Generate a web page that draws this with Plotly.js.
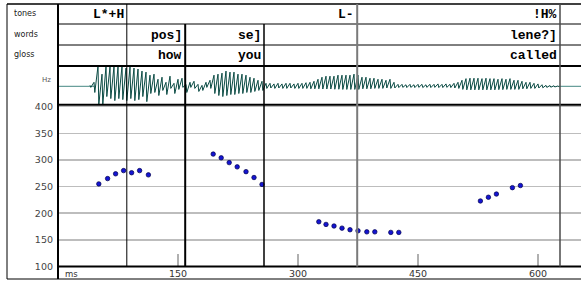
<!DOCTYPE html>
<html><head><meta charset="utf-8">
<script src="https://cdn.plot.ly/plotly-3.0.1.min.js"></script>
<style>html,body{margin:0;padding:0;background:#fff;}#chart{width:581px;height:281px;}</style>
</head><body><div id="chart"></div>
<script>
// ---------- data ----------
const tierNames = ["tones", "words", "gloss"];
const toneLabels = ["L*+H", "L-", "!H%"];
const toneEnds = [86, 374, 627.5];
const wordLabels = ["pos]", "se]", "lene?]"];
const wordEnds = [159, 257.5, 627.5];
const glossLabels = ["how", "you", "called"];
const glossEnds = [159, 257.5, 627.5];

const f0Ms = [51, 62, 72, 82, 92, 102, 113,
              194, 204, 214, 224, 235, 245, 255,
              326, 335, 345, 355, 365, 375, 386, 396, 416, 426,
              528, 538, 548, 568, 578];
const f0Hz = [255, 265, 274, 280, 276, 280, 272,
              311, 304, 295, 287, 278, 267, 254,
              184, 179, 176, 172, 169, 167, 165, 165, 164, 164,
              223, 230, 236, 248, 252];

const hzTicks = [100, 150, 200, 250, 300, 350, 400];
const msTicks = [150, 300, 450, 600];

// waveform envelope (relative amplitude), sampled every 5 ms from 40 ms
const waveStart = 40, waveStep = 5;
const waveHi = [0.05,0.2,1.0,0.6,1.0,0.95,1.0,0.95,1.0,0.9,0.95,0.9,0.85,0.75,0.7,0.55,0.6,0.35,0.45,0.2,0.5,0.15,0.35,0.4,0.1,0.2,0.25,0.1,0.05,0.2,0.3,0.55,0.6,0.65,0.75,0.7,0.7,0.6,0.6,0.55,0.45,0.4,0.3,0.25,
  0.15,0.15,0.12,0.15,0.12,0.15,0.15,0.12,0.15,0.15,0.18,0.2,0.25,
  0.35,0.45,0.5,0.5,0.5,0.55,0.55,0.55,0.55,0.6,0.55,0.45,0.45,0.4,0.4,0.35,0.35,0.3,0.35,0.2,
  0.1,0.1,0.08,0.1,0.08,0.1,0.1,0.08,0.1,0.1,0.12,0.1,0.12,0.1,0.15,0.2,
  0.3,0.38,0.4,0.4,0.4,0.38,0.4,0.38,0.38,0.35,0.38,0.35,0.38,0.3,0.3,0.25,0.2,0.2,0.15,0.12,0.08,0.05,0.04,0.03,0.02];
const waveLo = [-0.05,-0.3,-0.9,-0.9,-0.5,-0.6,-0.7,-0.6,-0.65,-0.7,-0.6,-0.7,-0.65,-0.5,-0.75,-0.35,-0.3,-0.45,-0.2,-0.4,-0.1,-0.35,-0.15,-0.05,-0.3,-0.05,-0.1,-0.25,-0.2,-0.05,-0.1,-0.35,-0.45,-0.5,-0.45,-0.4,-0.4,-0.35,-0.35,-0.3,-0.3,-0.25,-0.2,-0.2,
  -0.1,-0.08,-0.1,-0.08,-0.1,-0.1,-0.08,-0.1,-0.1,-0.1,-0.1,-0.12,-0.12,
  -0.12,-0.13,-0.13,-0.13,-0.14,-0.14,-0.15,-0.15,-0.15,-0.15,-0.15,-0.12,-0.12,-0.12,-0.1,-0.1,-0.1,-0.08,-0.1,-0.08,
  -0.06,-0.05,-0.06,-0.05,-0.06,-0.05,-0.06,-0.05,-0.06,-0.05,-0.06,-0.06,-0.05,-0.06,-0.08,-0.1,
  -0.15,-0.17,-0.17,-0.17,-0.17,-0.17,-0.17,-0.17,-0.17,-0.16,-0.16,-0.15,-0.15,-0.15,-0.15,-0.12,-0.12,-0.1,-0.1,-0.08,-0.07,-0.05,-0.04,-0.03,-0.02];
const silenceSegments = [[0, 45], [625, 660]];

// ---------- layout helpers ----------
const W = 581, H = 281;
const px = x => x / W;
const py = y => 1 - y / H;
const X0 = 58;                 // left edge of plotting column
const MS_PER_PX = 1 / 0.8;
const xMax = (W - X0) * MS_PER_PX;

// waveform trace: each sample drawn as a sharp pulse (hi) falling to its trough (lo)
const wx = [], wy = [];
const n = Math.min(waveHi.length, waveLo.length);
for (let i = 0; i < n; i++) {
  const t = waveStart + i * waveStep;
  wx.push(t, t + 1.0);
  wy.push(waveHi[i], waveLo[i]);
}
const sx = [], sy = [];
silenceSegments.forEach(s => { sx.push(s[0], s[1], null); sy.push(0, 0, null); });

const traces = [
  {x: sx, y: sy, xaxis: 'x', yaxis: 'y2', mode: 'lines', line: {color: '#6a9f9b', width: 1.2}, hoverinfo: 'skip'},
  {x: wx, y: wy, xaxis: 'x', yaxis: 'y2', mode: 'lines', line: {color: '#0b4b44', width: 1}, hoverinfo: 'skip'},
  {x: f0Ms, y: f0Hz, xaxis: 'x', yaxis: 'y', mode: 'markers',
   marker: {size: 4.5, color: '#1414d2', line: {color: '#00004a', width: 0.7}}}
];

// rows (pixel y)
const rowTop = 4, rowTones = 24, rowWords = 45, rowGloss = 66, rowWave = 104.7, rowPlot = 266.5, rowBottom = 279;

const shapes = [];
const hline = (y, x1, x2, w, c) => shapes.push({type: 'line', xref: 'paper', yref: 'paper', x0: px(x1), x1: px(x2), y0: py(y), y1: py(y), line: {color: c || '#000', width: w}, layer: 'above'});
const vbound = (t, yTop, w, c) => shapes.push({type: 'line', xref: 'x', yref: 'paper', x0: t, x1: t, y0: py(yTop), y1: py(rowPlot), line: {color: c, width: w}, layer: 'above'});

hline(rowTop, 7, W, 1.5);
hline(rowTones, X0, W, 1);
hline(rowWords, X0, W, 1);
hline(rowGloss, X0, W, 2);
hline(rowWave, X0, W, 2);
hline(rowPlot, X0, W, 2);
hline(rowBottom, 7, W, 1);
shapes.push({type: 'line', xref: 'paper', yref: 'paper', x0: px(7), x1: px(7), y0: py(rowTop), y1: py(rowBottom), line: {color: '#000', width: 1}, layer: 'above'});
shapes.push({type: 'line', xref: 'paper', yref: 'paper', x0: px(X0), x1: px(X0), y0: py(rowTop), y1: py(rowBottom), line: {color: '#000', width: 2}, layer: 'above'});

// boundary styles
const toneStyles = [{w: 1, c: '#000'}, {w: 2, c: '#7a7a7a'}, {w: 1.5, c: '#4a4a4a'}];
const wordStyles = [{w: 2, c: '#000'}, {w: 1.5, c: '#000'}, null];
toneEnds.forEach((t, i) => vbound(t, rowTop, toneStyles[i].w, toneStyles[i].c));
wordEnds.forEach((t, i) => { if (wordStyles[i]) vbound(t, rowTones, wordStyles[i].w, wordStyles[i].c); });

const annotations = [];
const tierFont = {family: 'Liberation Mono, DejaVu Sans Mono, monospace', size: 13, color: '#000', weight: 'bold'};
const addTier = (labels, ends, yc) => labels.forEach((l, i) => annotations.push({
  text: '<b>' + l.replace(/</g, '&lt;') + '</b>', xref: 'x', yref: 'paper', x: ends[i], y: py(yc),
  xanchor: 'right', yanchor: 'middle', xshift: -1, showarrow: false, font: tierFont}));
addTier(toneLabels, toneEnds, 14.5);
addTier(wordLabels, wordEnds, 35);
addTier(glossLabels, glossEnds, 55.5);

const nameY = [14, 34, 54.5];
tierNames.forEach((nm, i) => annotations.push({text: nm, xref: 'paper', yref: 'paper', x: px(12), y: py(nameY[i]),
  xanchor: 'left', yanchor: 'middle', showarrow: false, font: {family: 'DejaVu Sans', size: 8, color: '#222'}}));
annotations.push({text: 'Hz', xref: 'paper', yref: 'paper', x: px(53), y: py(80), xanchor: 'right', yanchor: 'middle',
  showarrow: false, font: {family: 'DejaVu Sans', size: 7, color: '#555'}});
annotations.push({text: 'ms', xref: 'paper', yref: 'paper', x: px(63), y: py(273.5), xanchor: 'left', yanchor: 'middle',
  showarrow: false, font: {family: 'DejaVu Sans', size: 8.5, color: '#333'}});

const layout = {
  width: W, height: H, margin: {l: 0, r: 0, t: 0, b: 0},
  paper_bgcolor: '#fff', plot_bgcolor: '#fff', showlegend: false,
  xaxis: {domain: [px(X0), 1], range: [0, xMax], anchor: 'y', showgrid: false, zeroline: false, showline: false,
    tickmode: 'array', tickvals: msTicks, ticktext: msTicks.map(String), ticks: 'inside', ticklen: 13, tickwidth: 1.5,
    tickcolor: '#b0b0b0', tickfont: {family: 'DejaVu Sans', size: 9.5, color: '#333'}},
  yaxis: {domain: [py(rowPlot), py(rowWave)], range: [100, 403.7], anchor: 'x', showgrid: true, gridcolor: '#bdbdbd', gridwidth: 1.5,
    zeroline: false, showline: false, ticks: '', tickmode: 'array', tickvals: hzTicks, ticktext: hzTicks.map(String),
    ticklabelstandoff: 4, tickfont: {family: 'DejaVu Sans', size: 9.5, color: '#444'}},
  yaxis2: {domain: [py(rowWave), py(rowGloss)], range: [-0.9, 1.0], anchor: 'x', showgrid: false, zeroline: false,
    showline: false, showticklabels: false, ticks: ''},
  shapes: shapes, annotations: annotations
};
Plotly.newPlot('chart', traces, layout, {staticPlot: true, displayModeBar: false});
</script></body></html>
